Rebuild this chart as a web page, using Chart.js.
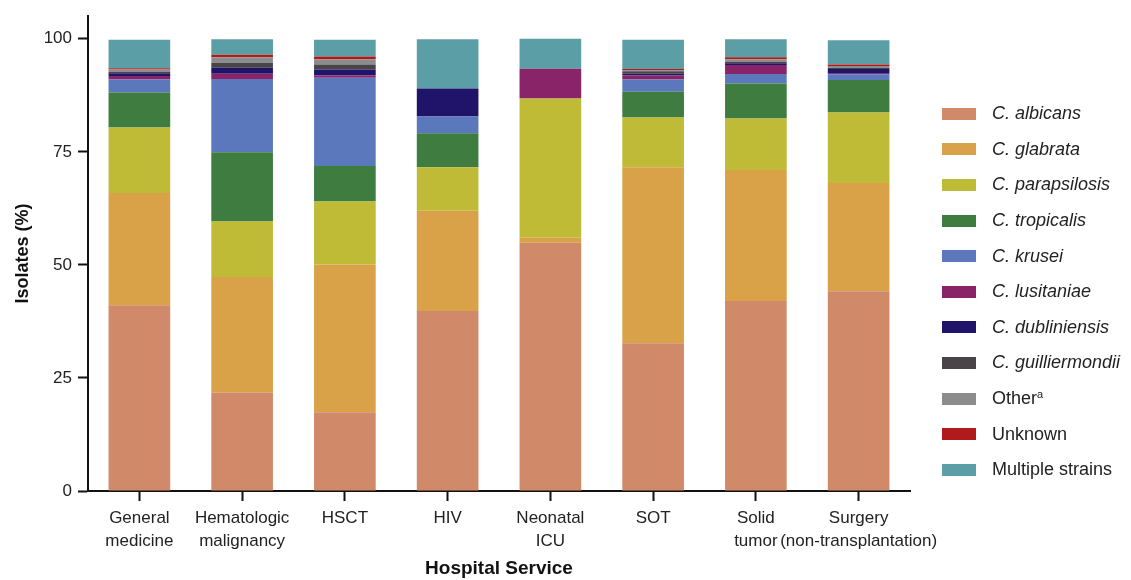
<!DOCTYPE html>
<html>
<head>
<meta charset="utf-8">
<script src="https://cdn.jsdelivr.net/npm/chart.js@4/dist/chart.umd.min.js"></script>
<style>
  html, body { margin: 0; padding: 0; background: #fff; }
  .wrap { position: relative; width: 1131px; height: 580px; }
  canvas { position: absolute; left: 0; top: 0; }
  .legend { position: absolute; left: 942px; top: 96px; font-family: 'Liberation Sans', Arial, sans-serif; font-size: 18px; color: #222; }
  .legend .row { height: 35.6px; display: flex; align-items: center; }
  .legend .sw { width: 34px; height: 12px; margin-right: 16px; flex: none; }
  .legend .it { font-style: italic; }
  .legend sup { font-size: 11px; vertical-align: 6px; line-height: 0; }
</style>
</head>
<body>
<div class="wrap">
  <canvas id="chart" width="1131" height="580"></canvas>
  <div class="legend" id="legend"></div>
</div>
<script>
var categories = [
  ['General', 'medicine'], ['Hematologic', 'malignancy'], ['HSCT'], ['HIV'],
  ['Neonatal', 'ICU'], ['SOT'], ['Solid', 'tumor'], ['Surgery', '(non-transplantation)']
];

var albicans       = [41.1, 21.8, 17.4, 39.8, 54.9, 32.7, 42.0, 44.2];
var glabrata       = [24.8, 25.5, 32.7, 22.2, 1.1, 38.9, 29.0, 23.9];
var parapsilosis   = [14.5, 12.3, 13.9, 9.6, 30.8, 11.0, 11.4, 15.6];
var tropicalis     = [7.7, 15.3, 7.9, 7.5, 0, 5.7, 7.7, 7.2];
var krusei         = [2.9, 16.2, 19.5, 3.7, 0, 2.7, 2.1, 1.2];
var lusitaniae     = [0.8, 1.2, 0.5, 0, 6.6, 0.9, 2.0, 0.2];
var dubliniensis   = [0.6, 1.3, 1.3, 6.2, 0, 0.4, 0.4, 1.0];
var guilliermondii = [0.3, 1.1, 1.1, 0, 0, 0.5, 0.3, 0.3];
var other          = [0.5, 1.2, 1.2, 0, 0, 0.2, 0.6, 0.4];
var unknown        = [0.3, 0.6, 0.6, 0, 0, 0.3, 0.4, 0.3];
var multiple       = [6.3, 3.4, 3.7, 10.9, 6.6, 6.5, 4.0, 5.4];

var yTicks = [0, 25, 50, 75, 100];

var series = [
  { label: 'C. albicans', data: albicans, color: '#d08a6a', italic: true },
  { label: 'C. glabrata', data: glabrata, color: '#d9a248', italic: true },
  { label: 'C. parapsilosis', data: parapsilosis, color: '#bfbb37', italic: true },
  { label: 'C. tropicalis', data: tropicalis, color: '#3e7c40', italic: true },
  { label: 'C. krusei', data: krusei, color: '#5c78bd', italic: true },
  { label: 'C. lusitaniae', data: lusitaniae, color: '#892468', italic: true },
  { label: 'C. dubliniensis', data: dubliniensis, color: '#1f1469', italic: true },
  { label: 'C. guilliermondii', data: guilliermondii, color: '#484448', italic: true },
  { label: 'Other', sup: 'a', data: other, color: '#8c8c8c', italic: false },
  { label: 'Unknown', data: unknown, color: '#b01a1a', italic: false },
  { label: 'Multiple strains', data: multiple, color: '#5b9ea6', italic: false }
];

var font = "'Liberation Sans', Arial, sans-serif";
var ink = '#111';

var ctx = document.getElementById('chart');
var chart = new Chart(ctx, {
  type: 'bar',
  data: {
    labels: categories,
    datasets: series.map(function (s) {
      return {
        label: s.label,
        data: s.data,
        backgroundColor: s.color,
        borderWidth: 0,
        barPercentage: 0.6,
        categoryPercentage: 1
      };
    })
  },
  options: {
    responsive: false,
    animation: false,
    layout: { padding: { top: 10, right: 221, left: 0, bottom: 0 } },
    plugins: { legend: { display: false }, tooltip: { enabled: false } },
    scales: {
      x: {
        stacked: true,
        afterFit: function (s) { s.height = 89; },
        grid: { drawOnChartArea: false, offset: false, tickLength: 10, tickWidth: 2, tickColor: ink },
        border: { color: ink, width: 2 },
        ticks: { color: '#222', padding: 6, maxRotation: 0, autoSkip: false, font: { family: font, size: 17, lineHeight: 1.35 } },
        title: { display: true, text: 'Hospital Service', color: '#111', font: { family: font, size: 19, weight: 'bold' }, padding: { top: 0, bottom: 0 } }
      },
      y: {
        stacked: true,
        min: 0,
        max: 105,
        afterFit: function (s) { s.width = 88; },
        afterBuildTicks: function (s) {
          s.ticks = yTicks.map(function (v) { return { value: v }; });
        },
        grid: { drawOnChartArea: false, tickLength: 10, tickWidth: 2, tickColor: ink },
        border: { color: ink, width: 2 },
        ticks: { color: '#222', padding: 6, font: { family: font, size: 17 } },
        title: { display: true, text: 'Isolates (%)', color: '#111', font: { family: font, size: 18, weight: 'bold' }, padding: { top: 12, bottom: 4 } }
      }
    }
  }
});

var legend = document.getElementById('legend');
series.forEach(function (s) {
  var row = document.createElement('div');
  row.className = 'row';
  var sw = document.createElement('span');
  sw.className = 'sw';
  sw.style.background = s.color;
  var txt = document.createElement('span');
  if (s.italic) txt.className = 'it';
  txt.textContent = s.label;
  if (s.sup) {
    var sup = document.createElement('sup');
    sup.textContent = s.sup;
    txt.appendChild(sup);
  }
  row.appendChild(sw);
  row.appendChild(txt);
  legend.appendChild(row);
});
</script>
</body>
</html>
